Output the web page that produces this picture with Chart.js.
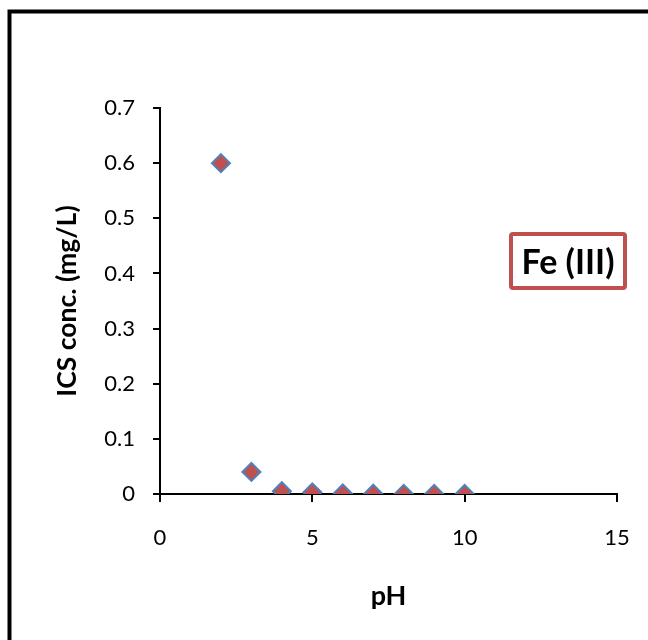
<!DOCTYPE html>
<html>
<head>
<meta charset="utf-8">
<script src="https://cdn.jsdelivr.net/npm/chart.js@4/dist/chart.umd.min.js"></script>
<style>
  html,body{margin:0;padding:0;background:#fff;}
  canvas{display:block;}
</style>
</head>
<body>
<canvas id="phChart" width="648" height="640"></canvas>
<script>
// data
const phValues   = [2, 3, 4, 5, 6, 7, 8, 9, 10];
const icsConc    = [0.6, 0.04, 0.005, 0.003, 0.001, 0.0005, 0.0003, 0.0002, 0.0001];
const xTicks     = [0, 5, 10, 15];
const yTicks     = [0, 0.1, 0.2, 0.3, 0.4, 0.5, 0.6, 0.7];
const seriesName = "Fe (III)";

const FONT = "Lato, 'Open Sans', sans-serif";
const RED  = "#C0504D";
const BLUE = "#4F81BD";

// outer frame + label box
const frame = {
  id: "frame",
  beforeDraw(c){
    const ctx = c.ctx;
    ctx.save();
    ctx.fillStyle = "#fff";
    ctx.fillRect(0,0,c.width,c.height);
    ctx.restore();
  },
  afterDraw(c){
    const ctx = c.ctx;
    ctx.save();
    ctx.strokeStyle = "#000";
    ctx.lineWidth = 4;
    ctx.beginPath();
    ctx.moveTo(9.5, 660);
    ctx.lineTo(9.5, 11.5);
    ctx.lineTo(660, 11.5);
    ctx.stroke();

    // series label box
    ctx.strokeStyle = RED;
    ctx.lineWidth = 4;
    ctx.beginPath();
    ctx.roundRect(511, 234, 114, 54, 2);
    ctx.stroke();
    ctx.fillStyle = "#000";
    ctx.font = "bold 34px " + FONT;
    ctx.textAlign = "center";
    ctx.textBaseline = "middle";
    ctx.fillText(seriesName, 568, 263);
    ctx.restore();
  }
};

new Chart(document.getElementById("phChart"), {
  type: "scatter",
  data: {
    datasets: [{
      label: seriesName,
      data: phValues.map((x,i)=>({x, y: icsConc[i]})),
      pointStyle: "rectRot",
      pointRadius: 9,
      pointHoverRadius: 9,
      backgroundColor: RED,
      borderColor: BLUE,
      borderWidth: 2
    }]
  },
  options: {
    responsive: false,
    animation: false,
    layout: { padding: { left: 0, top: 108, right: 31, bottom: 0 } },
    plugins: { legend: {display:false}, tooltip: {enabled:false} },
    scales: {
      x: {
        type: "linear",
        min: 0, max: 15,
        afterBuildTicks: s => { s.ticks = xTicks.map(v=>({value:v})); },
        afterFit: s => { s.height = 146; s.paddingLeft = 0; s.paddingRight = 20; },
        grid: { drawOnChartArea:false, drawTicks:true, tickLength:8, color:"#000", lineWidth:2 },
        border: { display:true, color:"#000", width:2 },
        ticks: { color:"#000", font:{family:FONT, size:22}, padding:23, maxRotation:0 },
        title: { display:true, text:"pH", color:"#000", font:{family:FONT, size:27, weight:"bold"}, padding:{top:0,bottom:28} }
      },
      y: {
        type: "linear",
        min: 0, max: 0.7,
        afterBuildTicks: s => { s.ticks = yTicks.map(v=>({value:v})); },
        afterFit: s => { s.width = 160; },
        grid: { drawOnChartArea:false, drawTicks:true, tickLength:7, color:"#000", lineWidth:2 },
        border: { display:true, color:"#000", width:2 },
        ticks: { color:"#000", font:{family:FONT, size:22}, padding:18, callback: v => String(+v.toFixed(1)) },
        title: { display:true, text:"ICS conc. (mg/L)", color:"#000", font:{family:FONT, size:26.5, weight:"bold"}, padding:{top:52,bottom:0} }
      }
    }
  },
  plugins: [frame]
});
</script>
</body>
</html>
